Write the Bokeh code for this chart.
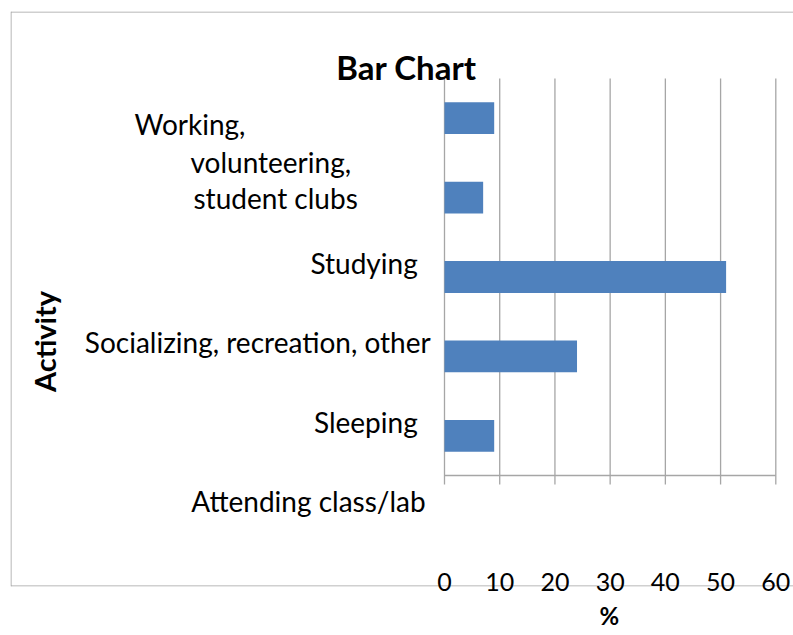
from bokeh.plotting import figure
from bokeh.models import Range1d, FixedTicker, Label, LabelSet, ColumnDataSource, Title
from bokeh.core.properties import value
from bokeh.embed import file_html
from bokeh.resources import INLINE
import math

# ---------------- data ----------------
title_text = "Bar Chart"
x_axis_label = "%"
y_axis_label = "Activity"
# bar values, bottom to top
bar_values = [9, 24, 51, 7, 9]
# category labels as they appear, bottom to top
category_labels = ["Attending class/lab", "Sleeping", "Socializing, recreation, other", "Studying"]
wrapped_label_lines = ["Working,", "volunteering,", "student clubs"]
x_ticks = [0, 10, 20, 30, 40, 50, 60]

# ---------------- layout ----------------
W, H = 793, 635
B_LEFT, B_TOP, B_RIGHT, B_BOTTOM = 10, 11, 0, 49
FRAME_W = W - B_LEFT - B_RIGHT
FRAME_H = H - B_TOP - B_BOTTOM
PX_X = 331.3 / 60.0          # pixels per % unit
ORIGIN_X = 434.0             # origin px from frame left
PX_Y = 79.4                  # pixels per category slot
ORIGIN_Y = 111.0             # axis px from frame bottom
x_start = -ORIGIN_X / PX_X
x_end = x_start + FRAME_W / PX_X
y_start = -ORIGIN_Y / PX_Y
y_end = y_start + FRAME_H / PX_Y

FONT = "Lato"
GRID = "#a6a6a6"
BORDER = "#a0a0a0"
BAR = "#4f81bd"

p = figure(width=W, height=H, output_backend="svg", toolbar_location=None,
           x_range=Range1d(x_start, x_end), y_range=Range1d(y_start, y_end),
           y_axis_location=None, min_border_left=B_LEFT, min_border_top=B_TOP,
           min_border_right=B_RIGHT, min_border_bottom=B_BOTTOM)
p.outline_line_color = None
p.xgrid.grid_line_color = None
p.ygrid.grid_line_color = None
p.background_fill_color = "white"
p.border_fill_color = "white"

# x axis: tick labels sitting on the outer border line
xa = p.xaxis[0]
xa.ticker = FixedTicker(ticks=x_ticks)
xa.axis_line_color = None
xa.major_tick_line_color = None
xa.minor_tick_line_color = None
xa.major_label_standoff = -20
xa.major_label_text_font = FONT
xa.major_label_text_font_size = "25px"
xa.major_label_text_color = "black"

# "%" axis title below, placed under the 30-40 region as in the original
p.add_layout(Title(text=x_axis_label, align="left", offset=589, standoff=10,
                   text_font=FONT, text_font_style="bold", text_font_size="24px",
                   text_color="black"), "below")

# outer chart border (left, top, bottom; right edge falls outside the picture)
hx = 0.5 / PX_X
hy = 0.5 / PX_Y
p.segment(x0=[x_start + hx, x_start + hx, x_start + hx],
          x1=[x_start + hx, x_end, x_end],
          y0=[y_start, y_end - hy, y_start + hy],
          y1=[y_end, y_end - hy, y_start + hy],
          line_color=BORDER, line_width=1)

n = len(bar_values)
tick_len = 9.0 / PX_Y
# gridlines + ticks
p.segment(x0=x_ticks, x1=x_ticks, y0=[-tick_len] * len(x_ticks), y1=[n] * len(x_ticks),
          line_color=GRID, line_width=1.3)
# x axis line
p.segment(x0=[x_ticks[0]], x1=[x_ticks[-1]], y0=[0], y1=[0], line_color=GRID, line_width=1.3)

# bars
slots = [i + 0.5 for i in range(n)]
p.hbar(y=slots, left=0, right=bar_values, height=0.4, fill_color=BAR, line_color=None)

# category labels (offset below bars as in the original)
label_dx = [-5, -13, 0, -13]
src = ColumnDataSource(dict(
    x=[-2.5] * len(category_labels),
    y=[i - 0.32 for i in range(len(category_labels))],
    text=category_labels, dx=label_dx))
p.add_layout(LabelSet(x="x", y="y", text="text", source=src, x_offset="dx",
                      text_align="right", text_baseline="middle",
                      text_font=value(FONT), text_font_size=value("28px"), text_color="black"))

wx = [(134 - 444) / PX_X, (190 - 444) / PX_X, (193 - 444) / PX_X]
wy = [(475 - 123.5) / PX_Y, (475 - 161.5) / PX_Y, (475 - 197) / PX_Y]
wsrc = ColumnDataSource(dict(x=wx, y=wy, text=wrapped_label_lines))
p.add_layout(LabelSet(x="x", y="y", text="text", source=wsrc,
                      text_align="left", text_baseline="middle",
                      text_font=value(FONT), text_font_size=value("28px"), text_color="black"))

# title
p.add_layout(Label(x=(406 - 444) / PX_X, y=(475 - 66.5) / PX_Y, text=title_text,
                   text_align="center", text_baseline="middle", text_font=FONT,
                   text_font_style="bold", text_font_size="33px", text_color="black"))
# y axis title
p.add_layout(Label(x=(44 - 444) / PX_X, y=(475 - 341) / PX_Y, text=y_axis_label, angle=math.pi / 2,
                   text_align="center", text_baseline="middle", text_font=FONT,
                   text_font_style="bold", text_font_size="29px", text_color="black"))

open("out.html", "w").write(file_html(p, INLINE))
